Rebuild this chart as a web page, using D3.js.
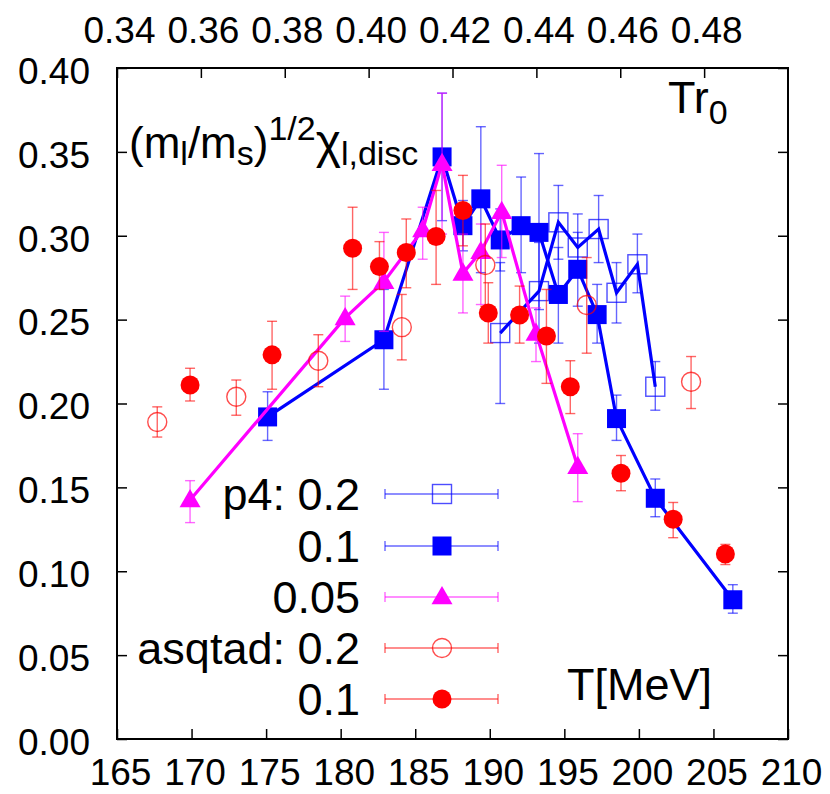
<!DOCTYPE html>
<html><head><meta charset="utf-8">
<script src="https://cdn.jsdelivr.net/npm/d3@7"></script>
<style>
html,body{margin:0;padding:0;background:#fff;}
svg{display:block;font-family:"Liberation Sans",Arial,sans-serif;}
</style></head>
<body>
<svg id="chart" width="830" height="794"></svg>
<script>
// ---------- data ----------
const xTicks = [165,170,175,180,185,190,195,200,205,210];
const yTicks = [0,0.05,0.10,0.15,0.20,0.25,0.30,0.35,0.40];
const topTicks = [0.34,0.36,0.38,0.40,0.42,0.44,0.46,0.48];

// p4: 0.2 (open blue squares)
const p4a_T  = [190.7,193.3,194.6,195.9,197.3,198.5,199.9,201.1];
const p4a_v  = [0.242,0.267,0.308,0.293,0.304,0.266,0.283,0.210];
const p4a_lo = [0.200,0.236,0.286,0.276,0.284,0.248,0.266,0.196];
const p4a_hi = [0.284,0.296,0.330,0.313,0.324,0.284,0.301,0.225];

// p4: 0.1 (filled blue squares)
const p4b_T  = [175.1,182.9,186.8,188.2,189.4,190.7,192.1,193.3,194.6,195.9,197.2,198.5,201.1,206.3];
const p4b_v  = [0.192,0.238,0.347,0.306,0.322,0.2975,0.306,0.302,0.265,0.280,0.253,0.191,0.1435,0.083];
const p4b_lo = [0.178,0.2085,0.309,0.291,0.278,0.279,0.278,0.256,0.236,0.258,0.236,0.178,0.1325,0.075];
const p4b_hi = [0.207,0.268,0.385,0.321,0.365,0.316,0.335,0.349,0.293,0.302,0.271,0.205,0.155,0.092];

// p4: 0.05 (magenta triangles)
const p4c_T  = [169.9,180.3,182.9,185.5,186.8,188.2,189.4,190.8,193.1,195.9];
const p4c_v  = [0.1425,0.251,0.2726,0.3034,0.343,0.2776,0.2905,0.3143,0.2418,0.1623];
const p4c_lo = [0.129,0.237,0.243,0.286,0.301,0.254,0.259,0.287,0.225,0.1415];
const p4c_hi = [0.154,0.264,0.302,0.317,0.385,0.301,0.307,0.342,0.257,0.182];

// asqtad: 0.2 (open red circles)
const asqA_T  = [167.7,173.0,178.5,184.1,189.7,196.5,203.5];
const asqA_v  = [0.189,0.204,0.2255,0.2455,0.2826,0.2587,0.213];
const asqA_lo = [0.180,0.193,0.210,0.226,0.258,0.230,0.197];
const asqA_hi = [0.198,0.214,0.241,0.265,0.307,0.287,0.228];

// asqtad: 0.1 (filled red circles)
const asqB_T  = [169.9,175.4,180.8,182.6,184.4,186.4,188.2,189.9,192.0,193.8,195.4,198.8,202.3,205.8];
const asqB_v  = [0.211,0.229,0.2925,0.2816,0.290,0.2995,0.315,0.254,0.2528,0.2402,0.210,0.1584,0.131,0.1103];
const asqB_lo = [0.2015,0.2085,0.268,0.268,0.269,0.271,0.294,0.236,0.236,0.212,0.194,0.148,0.120,0.104];
const asqB_hi = [0.221,0.249,0.317,0.2965,0.310,0.327,0.336,0.272,0.270,0.268,0.2255,0.169,0.141,0.116];

const legendLabels = ["p4: 0.2","0.1","0.05","asqtad: 0.2","0.1"];

// ---------- layout ----------
const L=117, R=788, T=68, B=739;
const FONT = 37, BIG = 44, LEG = 45, SUB = 34;

const svg = d3.select("#chart");
const x = d3.scaleLinear().domain([165,210]).range([L,R]);
const y = d3.scaleLinear().domain([0,0.4]).range([B,T]);
const xTop = d3.scaleLinear().domain([0.34,0.50]).range([L,R]);

const zip = (Ts,vs,lo,hi)=>Ts.map((t,i)=>({T:t,v:vs[i],lo:lo[i],hi:hi[i]}));

const series = [
  {data:zip(p4a_T,p4a_v,p4a_lo,p4a_hi), color:"#0000ff", marker:"square", filled:false, line:true},
  {data:zip(p4b_T,p4b_v,p4b_lo,p4b_hi), color:"#0000ff", marker:"square", filled:true, line:true},
  {data:zip(p4c_T,p4c_v,p4c_lo,p4c_hi), color:"#ff00ff", marker:"triangle", filled:true, line:true},
  {data:zip(asqA_T,asqA_v,asqA_lo,asqA_hi), color:"#ff0000", marker:"circle", filled:false, line:false},
  {data:zip(asqB_T,asqB_v,asqB_lo,asqB_hi), color:"#ff0000", marker:"circle", filled:true, line:false}
];

// ---------- axes ----------
function styleAxis(g){
  g.select(".domain").remove();
  g.selectAll(".tick line").attr("stroke","#000").attr("stroke-width",1.5);
  g.selectAll(".tick text").attr("fill","#000").style("font-size",FONT+"px");
}
const gB = svg.append("g").attr("transform",`translate(0,${B})`)
  .call(d3.axisBottom(x).tickValues(xTicks).tickSizeInner(-10).tickSizeOuter(0).tickFormat(d3.format("d")));
styleAxis(gB);
gB.selectAll(".tick text").attr("y",46).attr("dy",0).attr("dx",3);

const gT = svg.append("g").attr("transform",`translate(0,${T})`)
  .call(d3.axisTop(xTop).tickValues(topTicks).tickSizeInner(-10).tickSizeOuter(0).tickFormat(d3.format(".2f")));
styleAxis(gT);
gT.selectAll(".tick text").attr("y",-25).attr("dy",0).attr("dx",2);

const gL = svg.append("g").attr("transform",`translate(${L},0)`)
  .call(d3.axisLeft(y).tickValues(yTicks).tickSizeInner(-10).tickSizeOuter(0).tickFormat(d3.format(".2f")));
styleAxis(gL);
gL.selectAll(".tick text").attr("x",-27).attr("dy","0.36em").attr("y",2);

const gR = svg.append("g").attr("transform",`translate(${R},0)`)
  .call(d3.axisRight(y).tickValues(yTicks).tickSizeInner(-10).tickSizeOuter(0).tickFormat(""));
styleAxis(gR);

// frame
svg.append("rect").attr("x",L).attr("y",T).attr("width",R-L).attr("height",B-T)
  .attr("fill","none").attr("stroke","#000").attr("stroke-width",2);

// ---------- markers ----------
const SQ=19, CR=9.5, TRI=21;
function drawMarker(g, cx, cy, s){
  let m;
  if(s.marker==="square"){
    m = g.append("rect").attr("x",cx-SQ/2).attr("y",cy-SQ/2).attr("width",SQ).attr("height",SQ);
  } else if(s.marker==="circle"){
    m = g.append("circle").attr("cx",cx).attr("cy",cy).attr("r",CR);
  } else {
    const h = TRI*0.87;
    m = g.append("path").attr("d",`M${cx},${cy-h*0.6}L${cx+TRI/2},${cy+h*0.4}L${cx-TRI/2},${cy+h*0.4}Z`);
  }
  if(s.filled){ m.attr("fill",s.color).attr("stroke","none"); }
  else { m.attr("fill","none").attr("stroke",s.color).attr("stroke-width",1.4).attr("stroke-opacity",0.7); }
}

const plot = svg.append("g");
const CAP = 5;
series.forEach(s=>{
  const g = plot.append("g");
  s.data.forEach(d=>{
    const cx=x(d.T);
    g.append("line").attr("x1",cx).attr("x2",cx).attr("y1",y(d.lo)).attr("y2",y(d.hi))
      .attr("stroke",s.color).attr("stroke-width",1.4).attr("stroke-opacity",0.6);
    [d.lo,d.hi].forEach(v=>{
      g.append("line").attr("x1",cx-CAP).attr("x2",cx+CAP).attr("y1",y(v)).attr("y2",y(v))
        .attr("stroke",s.color).attr("stroke-width",1.4).attr("stroke-opacity",0.6);
    });
  });
  if(s.line){
    g.append("path").datum(s.data)
      .attr("d",d3.line().x(d=>x(d.T)).y(d=>y(d.v)))
      .attr("fill","none").attr("stroke",s.color).attr("stroke-width",3.2).attr("stroke-linejoin","miter");
  }
  s.data.forEach(d=>drawMarker(g,x(d.T),y(d.v),s));
});

// ---------- legend ----------
const legY = [494,546,597,648,699];
const lg = svg.append("g");
series.forEach((s,i)=>{
  const yy = legY[i];
  lg.append("text").attr("x",360).attr("y",yy).attr("dy","0.36em").attr("text-anchor","end")
    .style("font-size",LEG+"px").attr("fill","#000").text(legendLabels[i]);
  const g = lg.append("g");
  g.append("line").attr("x1",385).attr("x2",498).attr("y1",yy).attr("y2",yy)
    .attr("stroke",s.color).attr("stroke-width",1.4).attr("stroke-opacity",0.6);
  [385,498].forEach(xx=>g.append("line").attr("x1",xx).attr("x2",xx).attr("y1",yy-CAP).attr("y2",yy+CAP)
    .attr("stroke",s.color).attr("stroke-width",1.4).attr("stroke-opacity",0.6));
  drawMarker(g,442,yy,s);
});

// ---------- labels ----------
const base=158;
const ylab = svg.append("text").attr("x",129).attr("y",base).attr("fill","#000");
[["(",BIG,0],["m",BIG,0],["l",SUB,7],["/",BIG,0],["m",BIG,0],["s",SUB,7],[")",BIG,0],
 ["1/2",SUB,-18],["χ",BIG+4,0],["l,disc",SUB,7]].forEach(([t,sz,sh])=>{
  ylab.append("tspan").attr("y",base+sh).style("font-size",sz+"px").text(t);
});

const tr = svg.append("text").attr("x",668).attr("y",113).attr("fill","#000");
tr.append("tspan").style("font-size",LEG+"px").text("Tr");
tr.append("tspan").attr("y",124).style("font-size",SUB+"px").text("0");

svg.append("text").attr("x",712).attr("y",700).attr("text-anchor","end")
  .style("font-size",LEG+"px").attr("fill","#000").text("T[MeV]");
</script>
</body></html>
